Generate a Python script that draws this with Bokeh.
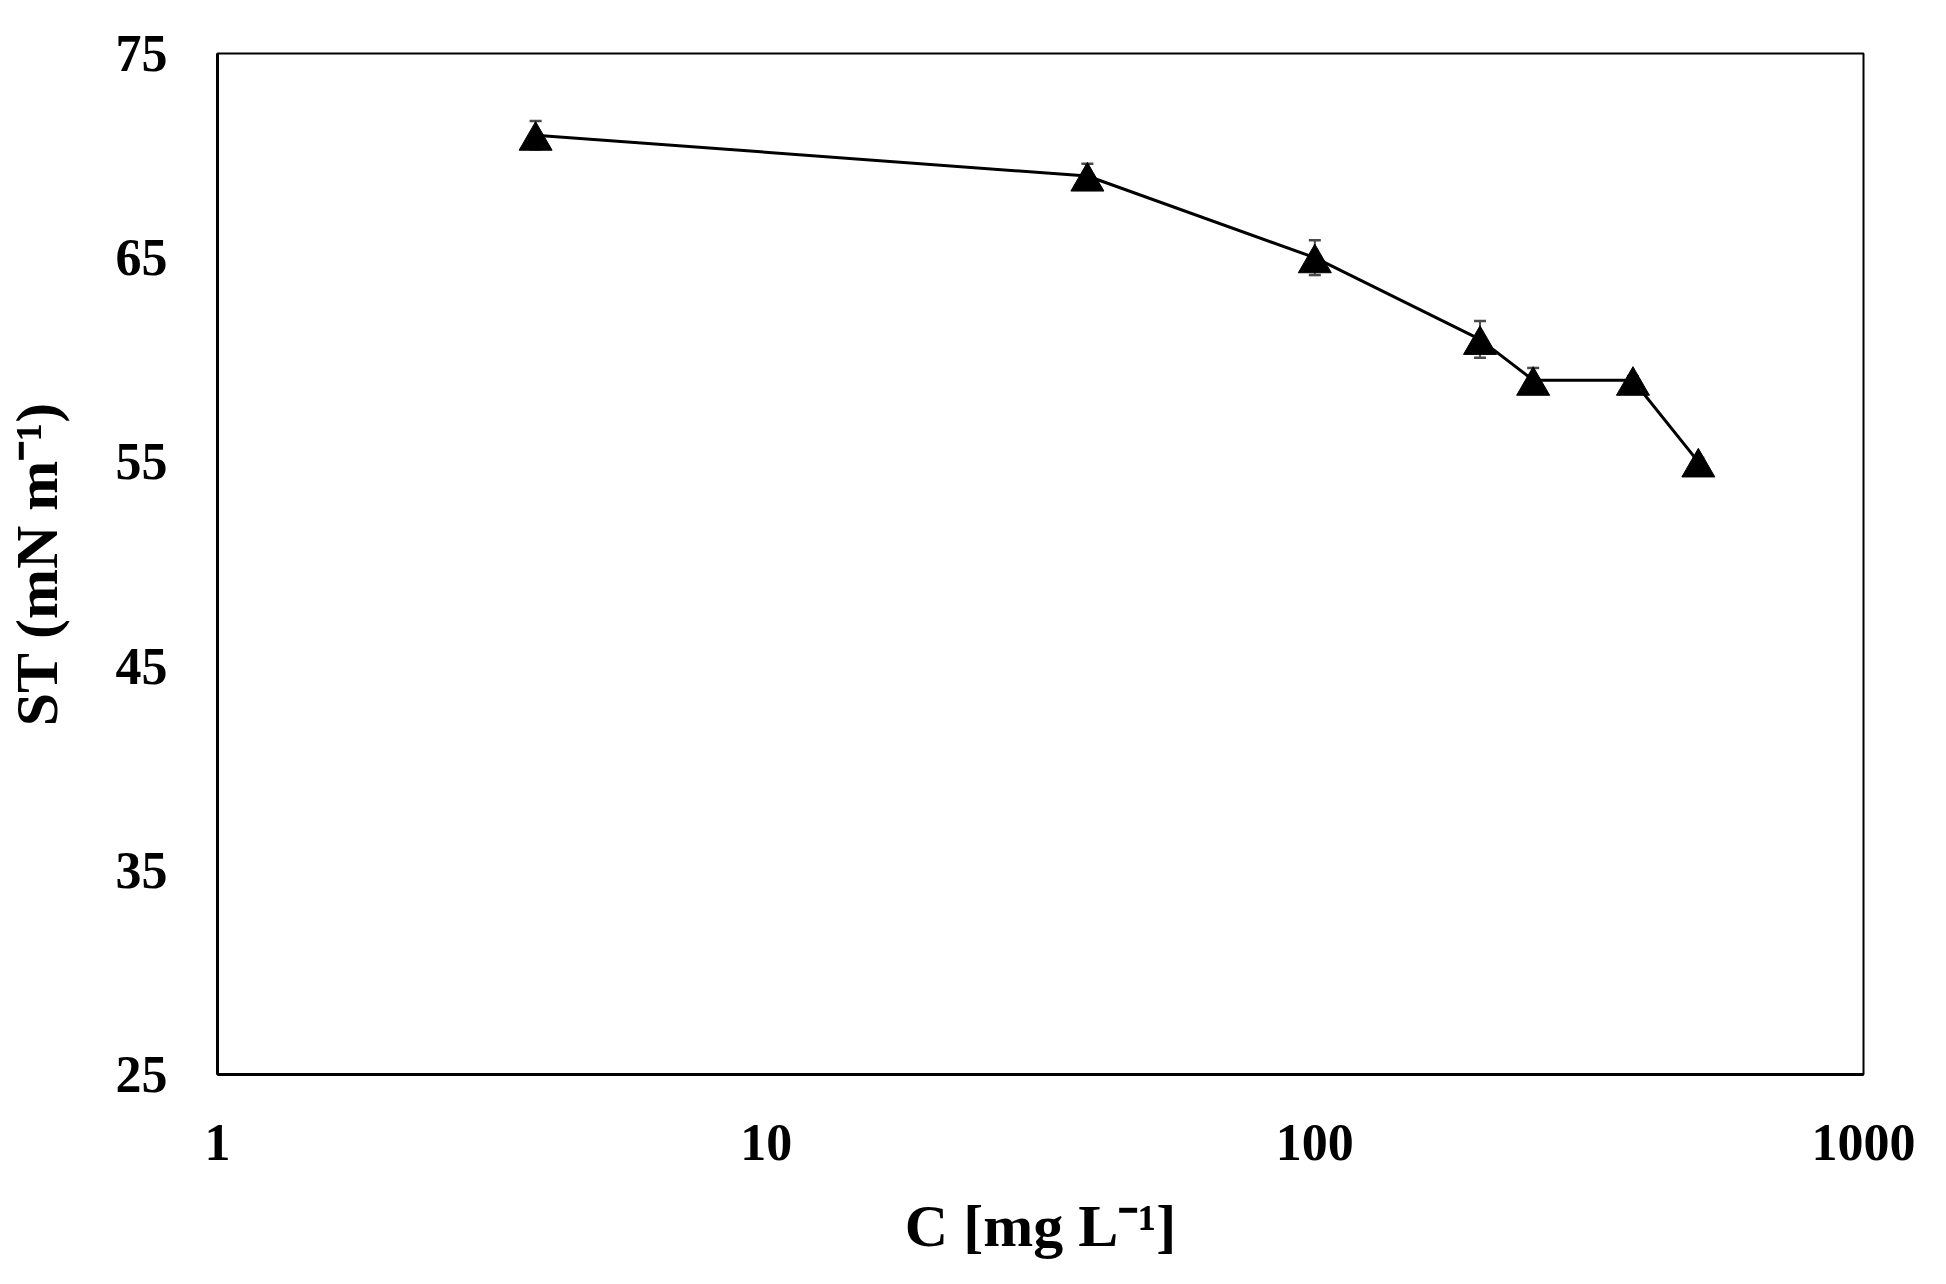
from bokeh.plotting import figure
from bokeh.models import Range1d, FixedTicker, Whisker, ColumnDataSource, TeeHead
from bokeh.embed import file_html
from bokeh.resources import INLINE

# ---- data ----
conc = [3.8, 38.5, 100, 200, 250, 380, 500]          # C [mg L-1]
st = [71.0, 69.0, 65.0, 61.0, 59.0, 59.0, 55.0]       # ST (mN m-1)
st_err = [0.7, 0.6, 0.85, 0.9, 0.6, 0.2, 0.2]
x_ticks = [1, 10, 100, 1000]
x_tick_labels = ["1", "10", "100", "1000"]
y_ticks = [25, 35, 45, 55, 65, 75]
y_tick_labels = ["25", "35", "45", "55", "65", "75"]

FONT = "Liberation Serif"

p = figure(width=1930, height=1268, output_backend="svg", toolbar_location=None,
           x_axis_type="log", x_range=Range1d(1, 1000), y_range=Range1d(25, 75),
           min_border_left=212, min_border_right=67, min_border_top=53, min_border_bottom=194)
p.background_fill_color = "white"
p.border_fill_color = "white"
p.xgrid.visible = False
p.ygrid.visible = False
p.outline_line_color = "black"
p.outline_line_width = 2

# shifted range so triangle's bounding box is centred on the data point
shift = 0.27
p.extra_y_ranges = {"mk": Range1d(25 + shift, 75 + shift)}

src = ColumnDataSource(dict(
    x=conc, y=st,
    upper=[v + e for v, e in zip(st, st_err)],
    lower=[v - e for v, e in zip(st, st_err)],
))

p.line("x", "y", source=src, line_color="black", line_width=3)

wh = Whisker(base="x", upper="upper", lower="lower", source=src,
             line_color="#4a4a4a", line_width=2, level="underlay",
             upper_head=TeeHead(size=12, line_color="#4a4a4a", line_width=2.5),
             lower_head=TeeHead(size=12, line_color="#4a4a4a", line_width=2.5))
p.add_layout(wh)

p.scatter("x", "y", source=src, marker="triangle", size=33,
          fill_color="black", line_color="black", y_range_name="mk")

for ax in (p.xaxis[0], p.yaxis[0]):
    ax.major_tick_line_color = None
    ax.minor_tick_line_color = None
    ax.major_tick_out = 0
    ax.major_tick_in = 0
    ax.axis_line_color = "black"
    ax.axis_line_width = 3
    ax.major_label_text_font = FONT
    ax.major_label_text_font_style = "bold"
    ax.major_label_text_font_size = "52px"
    ax.major_label_text_color = "black"
    ax.axis_label_text_font = FONT
    ax.axis_label_text_font_style = "bold"
    ax.axis_label_text_font_size = "60px"
    ax.axis_label_text_color = "black"
    ax.major_label_standoff = 50

p.xaxis[0].ticker = FixedTicker(ticks=x_ticks)
p.xaxis[0].major_label_overrides = {t: l for t, l in zip(x_ticks, x_tick_labels)}
p.yaxis[0].ticker = FixedTicker(ticks=y_ticks)
p.yaxis[0].major_label_overrides = {t: l for t, l in zip(y_ticks, y_tick_labels)}

p.xaxis[0].axis_label = "C [mg L\u207b\u00b9]"
p.yaxis[0].axis_label = "ST (mN m\u207b\u00b9)"
p.xaxis[0].axis_label_standoff = 30
p.yaxis[0].axis_label_standoff = 43

open("out.html", "w").write(file_html(p, INLINE))
